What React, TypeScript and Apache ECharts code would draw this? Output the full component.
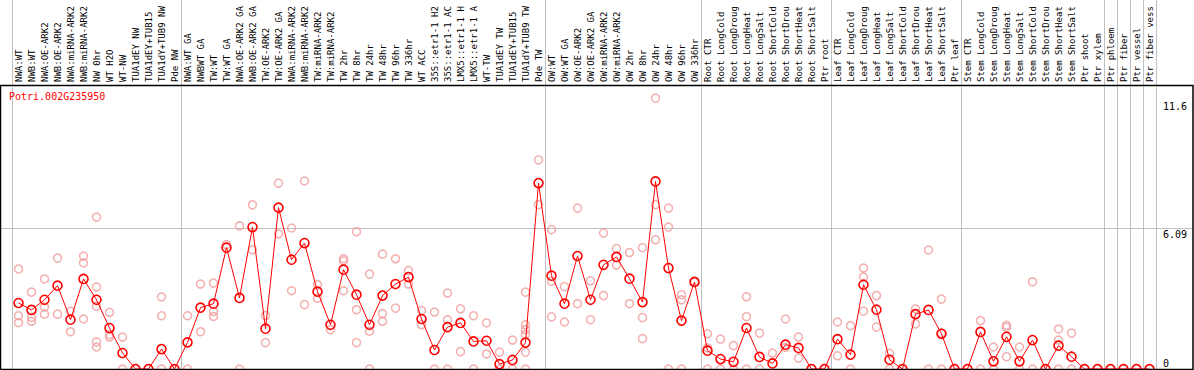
import React, { useEffect, useRef } from "react";
import * as echarts from "echarts";

const geneId = "Potri.002G235950";

const categories: string[] = [
  "NWA:WT", "NWB:WT", "NWA:OE-ARK2", "NWB:OE-ARK2", "NWA:miRNA-ARK2", "NWB:miRNA-ARK2",
  "NW 0hr", "WT H2O", "WT-NW", "TUA1dEY NW", "TUA1dEY+TUB15", "TUA1dY+TUB9 NW", "Pde NW",
  "NWA:WT GA", "NWBWT GA", "TW:WT", "TW:WT GA", "NWA:OE-ARK2 GA", "NWB:OE-ARK2 GA",
  "TW:OE-ARK2", "TW:OE-ARK2 GA", "NWA:miRNA-ARK2", "NWB:miRNA-ARK2", "TW:miRNA-ARK2",
  "TW:miRNA-ARK2", "TW 2hr", "TW 8hr", "TW 24hr", "TW 48hr", "TW 96hr", "TW 336hr",
  "WT ACC", "35S::etr1-1 H2", "35S::etr1-1 AC", "LMX5::etr1-1 H", "LMX5::etr1-1 A",
  "WT-TW", "TUA1dEY TW", "TUA1dEY+TUB15", "TUA1dY+TUB9 TW", "Pde TW",
  "OW:WT", "OW:WT GA", "OW:OE-ARK2", "OW:OE-ARK2 GA", "OW:miRNA-ARK2", "OW:miRNA-ARK2",
  "OW 2hr", "OW 8hr", "OW 24hr", "OW 48hr", "OW 96hr", "OW 336hr",
  "Root CTR", "Root LongCold", "Root LongDroug", "Root LongHeat", "Root LongSalt",
  "Root ShortCold", "Root ShortDrou", "Root ShortHeat", "Root ShortSalt", "Ptr root",
  "Leaf CTR", "Leaf LongCold", "Leaf LongDroug", "Leaf LongHeat", "Leaf LongSalt",
  "Leaf ShortCold", "Leaf ShortDrou", "Leaf ShortHeat", "Leaf ShortSalt", "Ptr leaf",
  "Stem CTR", "Stem LongCold", "Stem LongDroug", "Stem LongHeat", "Stem LongSalt",
  "Stem ShortCold", "Stem ShortDrou", "Stem ShortHeat", "Stem ShortSalt", "Ptr shoot",
  "Ptr xylem", "Ptr phloem", "Ptr fiber", "Ptr vessel", "Ptr fiber vess",
];

const means: number[] = [
  2.85, 2.55, 2.99, 3.6, 2.13, 3.89, 2.99, 1.77, 0.69, 0, 0, 0.86, 0,
  1.15, 2.65, 2.82, 5.24, 3.07, 6.13, 1.74, 6.97, 4.72, 5.44, 3.34, 1.91, 4.29, 3.21,
  1.91, 3.17, 3.67, 3.97, 2.16, 0.82, 1.81, 1.99, 1.19, 1.22, 0.21, 0.39, 1.14, 8.03,
  4.03, 2.82, 4.88, 2.99, 4.5, 4.84, 3.9, 2.89, 8.1, 4.36, 2.09, 3.76,
  0.79, 0.43, 0.31, 1.77, 0.52, 0.24, 1.05, 0.91, 0, 0,
  1.29, 0.62, 3.64, 2.56, 0.4, 0, 2.37, 2.55, 1.52, 0,
  0, 1.6, 0.33, 1.39, 0.33, 1.25, 0, 1.01, 0.53, 0, 0,
  0, 0, 0, 0,
];

const replicates: number[][] = [
  [4.32, 2.3, 2.0], [3.32, 2.23, 2.06], [3.89, 2.68, 2.37], [4.79, 2.37], [2.49, 1.61],
  [4.88, 4.58, 2.16], [6.56, 3.54, 2.71, 1.17, 0.95], [2.45, 1.48, 1.38], [1.38, 0], [0],
  [0], [3.11, 2.3, 0], [0],
  [2.3, 0], [3.67, 1.61], [3.71, 2.49, 2.27], [5.37], [6.18, 0], [7.09, 5.15], [2.31, 1.14],
  [8.03, 5.84], [6.09, 3.38], [8.12, 2.78], [3.64, 3.06], [1.7], [4.76, 4.67, 3.38],
  [5.93, 2.56, 1.14], [4.1, 1.63, 0], [4.96, 2.39, 2.06], [4.76, 2.63], [4.25, 3.67],
  [2.52, 1.91], [2.46, 0], [3.28, 2.12, 0], [2.6, 0.75], [2.3, 0], [1.99, 0.65], [0.73, 0],
  [1.25, 0], [3.32, 1.91, 1.7, 1.48, 0.73, 0], [9.03, 7.1],
  [6.02, 3.79, 2.25], [3.56, 2.03], [6.95, 2.82], [3.81, 2.13], [5.87, 3.17], [5.2, 4.49],
  [5.03, 2.82], [5.24, 2.22, 1.31], [11.7, 7.1, 5.58], [6.95, 6.13, 0], [3.21, 2.99, 0], [3.76],
  [1.52, 0.91, 0], [1.29, 0], [1.01, 0], [3.12, 2.26, 0], [1.55, 0], [0.69], [2.16, 0.93],
  [1.38, 0.47], [0], [0],
  [2.03, 0.57], [1.87, 0], [4.36, 3.97, 2.5], [3.17, 1.81], [0.68, 0], [0], [2.6, 1.95],
  [5.14, 0], [3.02, 1.55, 0], [0],
  [0], [2.09, 0], [0.95, 0], [1.89, 1.8, 0.53], [0.95, 0], [3.77, 0], [0], [1.73, 1.25, 0],
  [1.55, 0], [0], [0],
  [0], [0], [0], [0],
];

const yMax = 12.18;
const yTickValues: number[] = [11.6, 6.09, 0];
const yTickLabels: string[] = ["11.6", "6.09", "0"];
const yGridValue = 6.09;
const separatorIndices: number[] = [0, 13, 41, 53, 63, 73, 84, 85, 86, 87];

export default function App() {
  const ref = useRef<HTMLDivElement>(null);

  useEffect(() => {
    if (!ref.current) return;
    const chart = echarts.init(ref.current, null, { renderer: "svg" });
    const font = "'DejaVu Sans Mono', monospace";
    const gray = "#c0c0c0";
    const repData: number[][] = [];
    replicates.forEach((vals, i) => vals.forEach((v) => repData.push([i, v])));
    const sepFn = (idx: number) => separatorIndices.includes(idx);

    chart.setOption({
      animation: false,
      backgroundColor: "#ffffff",
      title: {
        text: geneId,
        left: 9,
        top: 91,
        padding: 0,
        textStyle: { color: "#ff0000", fontSize: 10, fontFamily: font, fontWeight: "normal" },
      },
      grid: [
        { left: 12, width: 1144, top: 87, height: 282 },
        { left: 12, width: 1144, top: 0, height: 85 },
      ],
      xAxis: [
        {
          type: "category",
          gridIndex: 0,
          data: categories,
          position: "top",
          boundaryGap: true,
          axisLine: { show: false },
          axisTick: { show: false },
          axisLabel: { interval: 0, rotate: 90, margin: 5, fontSize: 9, fontFamily: font, color: "#000" },
          splitLine: { show: true, interval: sepFn, lineStyle: { color: gray, width: 1 } },
        },
        {
          type: "category",
          gridIndex: 1,
          data: categories,
          boundaryGap: true,
          axisLine: { show: false },
          axisTick: { show: false },
          axisLabel: { show: false },
          splitLine: { show: true, interval: sepFn, lineStyle: { color: gray, width: 1 } },
        },
      ],
      yAxis: [
        {
          type: "value",
          gridIndex: 0,
          min: 0,
          max: yMax,
          axisLine: { show: false },
          axisTick: { show: false },
          axisLabel: { show: false },
          splitLine: { show: false },
        },
        {
          type: "value",
          gridIndex: 1,
          min: 0,
          max: 1,
          axisLine: { show: false },
          axisTick: { show: false },
          axisLabel: { show: false },
          splitLine: { show: false },
        },
      ],
      series: [
        {
          type: "scatter",
          xAxisIndex: 0,
          yAxisIndex: 0,
          data: repData,
          symbol: "circle",
          symbolSize: 8,
          silent: true,
          z: 3,
          itemStyle: { color: "rgba(255,255,255,0)", borderColor: "#f09a9a", borderWidth: 1.5 },
        },
        {
          type: "line",
          xAxisIndex: 0,
          yAxisIndex: 0,
          data: means,
          symbol: "circle",
          symbolSize: 9,
          showAllSymbol: true,
          z: 4,
          lineStyle: { color: "#ff0000", width: 1 },
          itemStyle: { color: "rgba(255,255,255,0)", borderColor: "#ff0000", borderWidth: 1.6 },
        },
      ],
    });

    const yPix = (v: number) => chart.convertToPixel({ yAxisIndex: 0 }, v) as number;
    const gy = Math.round(yPix(yGridValue)) + 0.5;
    const graphics: any[] = [
      {
        type: "line",
        z: 1,
        silent: true,
        shape: { x1: 0, y1: gy, x2: 1193, y2: gy },
        style: { stroke: gray, lineWidth: 1 },
      },
      {
        type: "rect",
        z: 10,
        silent: true,
        shape: { x: 0.5, y: 85.5, width: 1192.5, height: 284 },
        style: { fill: "none", stroke: "#000", lineWidth: 1.5 },
      },
    ];
    yTickValues.forEach((v, i) => {
      graphics.push({
        type: "text",
        z: 10,
        silent: true,
        x: 1163,
        y: yPix(v) + (v === 0 ? -1 : 1),
        style: {
          text: yTickLabels[i],
          fill: "#000",
          fontSize: 10,
          fontFamily: font,
          align: "left",
          verticalAlign: v === 0 ? "bottom" : "top",
        },
      });
    });
    chart.setOption({ graphic: graphics });

    return () => chart.dispose();
  }, []);

  return (
    <div
      ref={ref}
      style={{ position: "absolute", left: 0, top: 0, width: 1194, height: 370, background: "#fff" }}
    />
  );
}
